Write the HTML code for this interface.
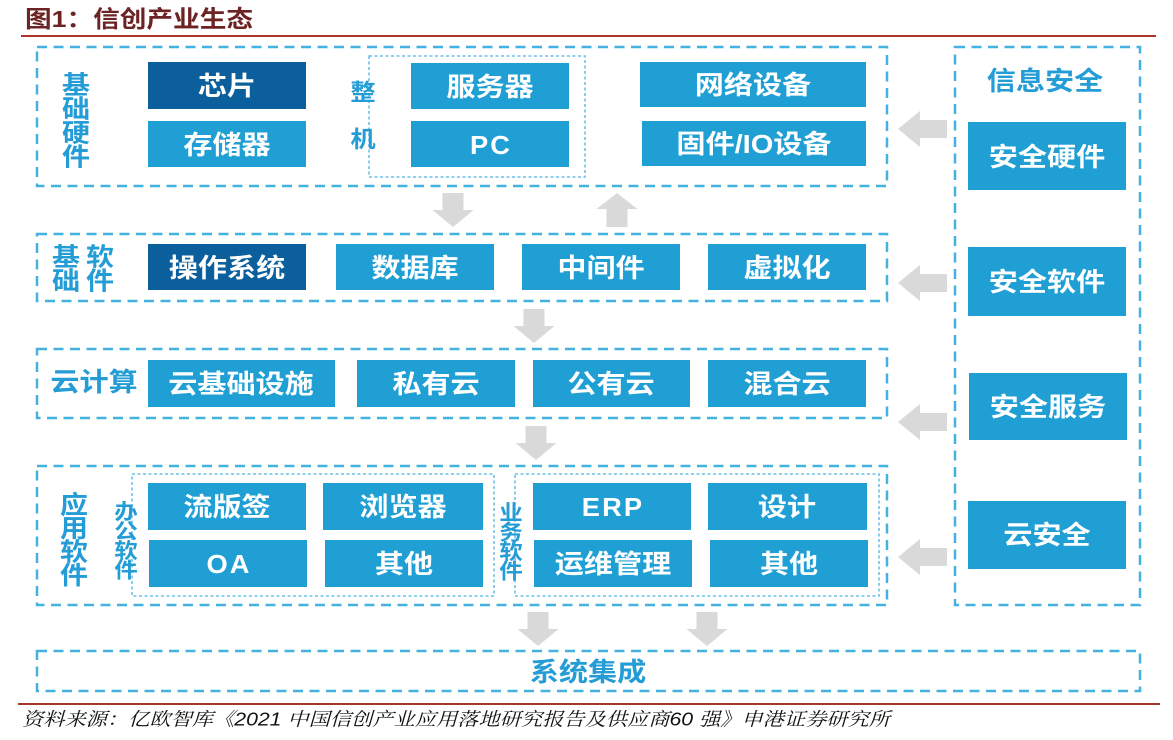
<!DOCTYPE html>
<html>
<head>
<meta charset="utf-8">
<style>
  html,body{margin:0;padding:0;background:#fff;}
  body{width:1173px;height:740px;overflow:hidden;}
  svg{display:block;}
  .bx text{font-family:"Liberation Sans","Noto Sans CJK SC",sans-serif;font-weight:bold;font-size:26px;fill:#fff;}
  .bx text.l{letter-spacing:2px;}
  .lb text{font-family:"Liberation Sans","Noto Sans CJK SC",sans-serif;font-weight:bold;fill:#249cd6;}
</style>
</head>
<body>
<svg width="1173" height="740" viewBox="0 0 1173 740" xmlns="http://www.w3.org/2000/svg">
  <!-- title -->
  <text x="25" y="19" dominant-baseline="central" textLength="228" lengthAdjust="spacingAndGlyphs" style="font-family:'Liberation Sans','Noto Sans CJK SC',sans-serif;font-weight:bold;font-size:23.5px;fill:#6b2323;">图1：信创产业生态</text>
  <line x1="21" y1="36" x2="1156" y2="36" stroke="#a8362b" stroke-width="2"/>

  <!-- dashed outer boxes -->
  <g fill="none" stroke="#45b1e0" stroke-width="2.5" stroke-dasharray="10 6.5">
    <rect x="37" y="47" width="850" height="139"/>
    <rect x="37" y="234" width="850" height="67"/>
    <rect x="37" y="349" width="850" height="69"/>
    <rect x="37" y="466" width="850" height="139"/>
    <rect x="37" y="651" width="1103" height="40"/>
    <rect x="955" y="47" width="185" height="558"/>
  </g>
  <!-- dotted inner boxes -->
  <g fill="none" stroke="#6cbfe8" stroke-width="1.6" stroke-dasharray="3 2.5">
    <rect x="369" y="56" width="216" height="121"/>
    <rect x="132" y="474" width="362" height="122"/>
    <rect x="515" y="474" width="364" height="122"/>
  </g>

  <!-- arrows -->
  <g fill="#d9d9d9">
    <path d="M442.5,193 L463.5,193 L463.5,210 L473.5,210 L453,227 L432.5,210 L442.5,210 Z"/>
    <path d="M617,193 L637.5,209 L627.5,209 L627.5,227 L606.5,227 L606.5,209 L596.5,209 Z"/>
    <path d="M523.5,309 L544.5,309 L544.5,326 L554.5,326 L534,343 L513.5,326 L523.5,326 Z"/>
    <path d="M525.5,426 L546.5,426 L546.5,443 L556.5,443 L536,460 L515.5,443 L525.5,443 Z"/>
    <path d="M527.5,612 L548.5,612 L548.5,629 L558.5,629 L538,646 L517.5,629 L527.5,629 Z"/>
    <path d="M696.5,612 L717.5,612 L717.5,629 L727.5,629 L707,646 L686.5,629 L696.5,629 Z"/>
    <path d="M898,129 L920,111 L920,120 L947,120 L947,138 L920,138 L920,147 Z"/>
    <path d="M898,283 L920,265 L920,274 L947,274 L947,292 L920,292 L920,301 Z"/>
    <path d="M898,422 L920,404 L920,413 L947,413 L947,431 L920,431 L920,440 Z"/>
    <path d="M898,557 L920,539 L920,548 L947,548 L947,566 L920,566 L920,575 Z"/>
  </g>

  <!-- filled boxes -->
  <g fill="#1f9fd4">
    <rect x="148" y="121" width="158" height="46"/>
    <rect x="411" y="63" width="158" height="46"/>
    <rect x="411" y="121" width="158" height="46"/>
    <rect x="640" y="62" width="226" height="45"/>
    <rect x="642" y="121" width="224" height="45"/>

    <rect x="336" y="244" width="158" height="46"/>
    <rect x="522" y="244" width="158" height="46"/>
    <rect x="708" y="244" width="158" height="46"/>

    <rect x="148" y="360" width="187" height="47"/>
    <rect x="357" y="360" width="158" height="47"/>
    <rect x="533" y="360" width="157" height="47"/>
    <rect x="708" y="360" width="158" height="47"/>

    <rect x="148" y="483" width="158" height="47"/>
    <rect x="323" y="483" width="160" height="47"/>
    <rect x="149" y="540" width="158" height="47"/>
    <rect x="325" y="540" width="158" height="47"/>
    <rect x="533" y="483" width="158" height="47"/>
    <rect x="708" y="483" width="159" height="47"/>
    <rect x="534" y="540" width="158" height="47"/>
    <rect x="710" y="540" width="158" height="47"/>

    <rect x="968" y="122" width="158" height="68"/>
    <rect x="968" y="247" width="158" height="69"/>
    <rect x="969" y="373" width="158" height="67"/>
    <rect x="968" y="501" width="158" height="68"/>
  </g>
  <g fill="#0b5f9c">
    <rect x="148" y="62" width="158" height="47"/>
    <rect x="148" y="244" width="158" height="46"/>
  </g>

  <!-- box texts -->
  <g class="bx" text-anchor="middle" dominant-baseline="central">
    <text transform="translate(227 86) scale(1.12 1)">芯片</text>
    <text transform="translate(227 145) scale(1.12 1)">存储器</text>
    <text transform="translate(490 87) scale(1.12 1)">服务器</text>
    <text class="l" transform="translate(491 145) scale(1.05 1)">PC</text>
    <text transform="translate(753 85) scale(1.12 1)">网络设备</text>
    <text transform="translate(754 144) scale(1.12 1)">固件/IO设备</text>

    <text transform="translate(227 268) scale(1.12 1)">操作系统</text>
    <text transform="translate(415 268) scale(1.12 1)">数据库</text>
    <text transform="translate(601 268) scale(1.12 1)">中间件</text>
    <text transform="translate(787 268) scale(1.12 1)">虚拟化</text>

    <text transform="translate(241 384) scale(1.12 1)">云基础设施</text>
    <text transform="translate(436 384) scale(1.12 1)">私有云</text>
    <text transform="translate(611 384) scale(1.12 1)">公有云</text>
    <text transform="translate(787 384) scale(1.12 1)">混合云</text>

    <text transform="translate(227 507) scale(1.12 1)">流版签</text>
    <text transform="translate(403 507) scale(1.12 1)">浏览器</text>
    <text class="l" transform="translate(229 564) scale(1.05 1)">OA</text>
    <text transform="translate(404 564) scale(1.12 1)">其他</text>
    <text class="l" transform="translate(613 507) scale(1.05 1)">ERP</text>
    <text transform="translate(787 507) scale(1.12 1)">设计</text>
    <text transform="translate(613 564) scale(1.12 1)">运维管理</text>
    <text transform="translate(789 564) scale(1.12 1)">其他</text>

    <text transform="translate(1047 157) scale(1.12 1)">安全硬件</text>
    <text transform="translate(1047 282) scale(1.12 1)">安全软件</text>
    <text transform="translate(1048 407) scale(1.12 1)">安全服务</text>
    <text transform="translate(1047 535) scale(1.12 1)">云安全</text>
  </g>

  <!-- labels -->
  <g class="lb" text-anchor="middle" dominant-baseline="central">
    <g style="font-size:25px">
      <text transform="translate(76 85) scale(1.12 1)">基</text>
      <text transform="translate(76 109) scale(1.12 1)">础</text>
      <text transform="translate(76 133) scale(1.12 1)">硬</text>
      <text transform="translate(76 157) scale(1.12 1)">件</text>
    </g>
    <g style="font-size:23px">
      <text transform="translate(363 93) scale(1.1 1)">整</text>
      <text transform="translate(363 140) scale(1.1 1)">机</text>
    </g>
    <g style="font-size:25px">
      <text transform="translate(66 257) scale(1.12 1)">基</text>
      <text transform="translate(100 257) scale(1.12 1)">软</text>
      <text transform="translate(66 281) scale(1.12 1)">础</text>
      <text transform="translate(100 281) scale(1.12 1)">件</text>
    </g>
    <text transform="translate(94 382) scale(1.12 1)" style="font-size:26px">云计算</text>
    <g style="font-size:25px">
      <text transform="translate(74 505) scale(1.12 1)">应</text>
      <text transform="translate(74 528.5) scale(1.12 1)">用</text>
      <text transform="translate(74 552) scale(1.12 1)">软</text>
      <text transform="translate(74 575.5) scale(1.12 1)">件</text>
    </g>
    <g style="font-size:21px">
      <text transform="translate(126 512) scale(1.12 1)">办</text>
      <text transform="translate(126 531.5) scale(1.12 1)">公</text>
      <text transform="translate(126 551) scale(1.12 1)">软</text>
      <text transform="translate(126 570.5) scale(1.12 1)">件</text>
      <text transform="translate(511 513) scale(1.12 1)">业</text>
      <text transform="translate(511 532.5) scale(1.12 1)">务</text>
      <text transform="translate(511 552) scale(1.12 1)">软</text>
      <text transform="translate(511 571.5) scale(1.12 1)">件</text>
    </g>
    <text transform="translate(1045 81) scale(1.12 1)" style="font-size:26px">信息安全</text>
    <text transform="translate(588 672) scale(1.12 1)" style="font-size:26px">系统集成</text>
  </g>

  <!-- source line -->
  <line x1="18" y1="704" x2="1160" y2="704" stroke="#a8362b" stroke-width="2"/>
  <text x="22" y="719" dominant-baseline="central" textLength="868" lengthAdjust="spacingAndGlyphs" style="font-family:'Liberation Sans','Noto Serif CJK SC',serif;font-style:italic;font-size:18.5px;fill:#111;">资料来源：亿欧智库《2021 中国信创产业应用落地研究报告及供应商60 强》申港证券研究所</text>
</svg>
</body>
</html>
